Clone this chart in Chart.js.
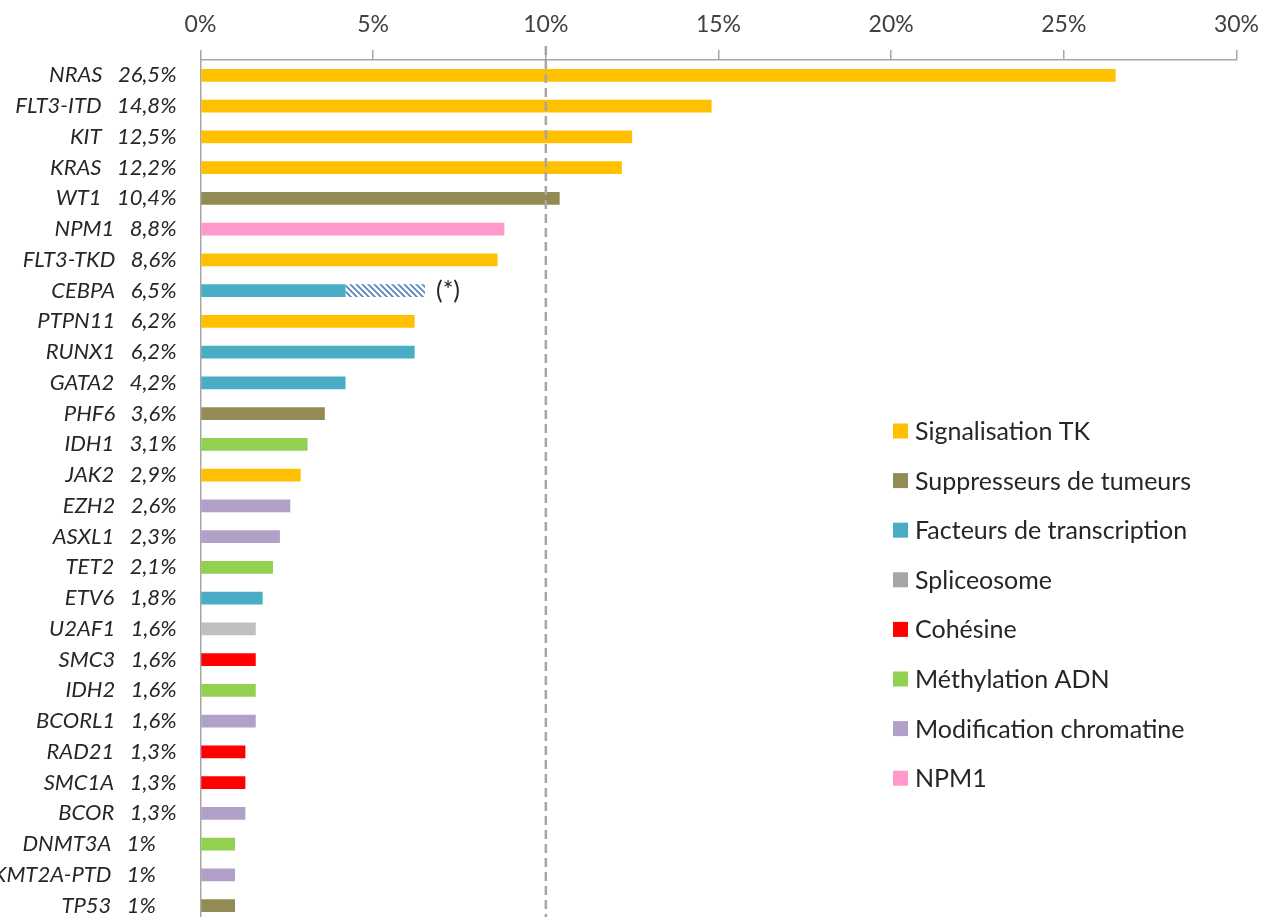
<!DOCTYPE html>
<html>
<head>
<meta charset="utf-8">
<script src="https://cdn.jsdelivr.net/npm/chart.js@4.4.1/dist/chart.umd.min.js"></script>
<style>
  html, body { margin: 0; padding: 0; background: #ffffff; overflow: hidden; }
  #wrap { width: 1276px; height: 917px; overflow: hidden; }
</style>
</head>
<body>
<div id="wrap"><canvas id="c" width="1276" height="921"></canvas></div>
<script>
// ---- data ----
const genes = ['NRAS','FLT3-ITD','KIT','KRAS','WT1','NPM1','FLT3-TKD','CEBPA','PTPN11','RUNX1','GATA2','PHF6','IDH1','JAK2','EZH2','ASXL1','TET2','ETV6','U2AF1','SMC3','IDH2','BCORL1','RAD21','SMC1A','BCOR','DNMT3A','KMT2A-PTD','TP53'];
const values = [26.5,14.8,12.5,12.2,10.4,8.8,8.6,6.5,6.2,6.2,4.2,3.6,3.1,2.9,2.6,2.3,2.1,1.8,1.6,1.6,1.6,1.6,1.3,1.3,1.3,1,1,1];
const pctLabels = ['26,5%','14,8%','12,5%','12,2%','10,4%','8,8%','8,6%','6,5%','6,2%','6,2%','4,2%','3,6%','3,1%','2,9%','2,6%','2,3%','2,1%','1,8%','1,6%','1,6%','1,6%','1,6%','1,3%','1,3%','1,3%','1%','1%','1%'];
// category index per gene
const groups = [0,0,0,0,1,7,0,2,0,2,2,1,5,0,6,6,5,2,3,4,5,6,4,4,6,5,6,1];
const categories = ['Signalisation TK','Suppresseurs de tumeurs','Facteurs de transcription','Spliceosome','Cohésine','Méthylation ADN','Modification chromatine','NPM1'];
const catColors = ['#FFC000','#948A54','#4BACC6','#BFBFBF','#FF0000','#92D050','#B1A0C7','#FF99CC'];
const legendColors = ['#FFC000','#948A54','#4BACC6','#A6A6A6','#FF0000','#92D050','#B1A0C7','#FF99CC'];
// CEBPA: solid part + hatched remainder
const cebpaGene = 'CEBPA';
const cebpaSolid = 4.2;
const cebpaNote = '(*)';
const xTicks = [0,5,10,15,20,25,30];
const refLine = 10;

// ---- hatch pattern ----
function makeHatch(color) {
  const s = 6;
  const pc = document.createElement('canvas');
  pc.width = s; pc.height = s;
  const g = pc.getContext('2d');
  g.fillStyle = '#ffffff';
  g.fillRect(0, 0, s, s);
  g.strokeStyle = color;
  g.lineWidth = 1.6;
  g.beginPath();
  g.moveTo(-1, -1); g.lineTo(s + 1, s + 1);
  g.moveTo(-1, s - 1); g.lineTo(1, s + 1);
  g.moveTo(s - 1, -1); g.lineTo(s + 1, 1);
  g.stroke();
  return document.getElementById('c').getContext('2d').createPattern(pc, 'repeat');
}

// ---- datasets ----
const cebpaIdx = genes.indexOf(cebpaGene);
const datasets = categories.map((cat, ci) => ({
  label: cat,
  data: values.map((v, i) => groups[i] === ci ? (i === cebpaIdx ? cebpaSolid : v) : null),
  backgroundColor: catColors[ci],
  borderWidth: 0,
  stack: 's'
}));
datasets.push({
  label: 'hatch',
  data: values.map((v, i) => i === cebpaIdx ? +(v - cebpaSolid).toFixed(2) : null),
  backgroundColor: makeHatch('#4F81BD'),
  borderWidth: 0,
  stack: 's'
});

const FONT = 'Lato';
const labelGap = '   ';
const labelPadSpaces = '    ';

const extras = {
  id: 'extras',
  afterDatasetsDraw(chart) {
    const ctx = chart.ctx;
    const xs = chart.scales.x, ys = chart.scales.y;
    // dashed reference line
    const x10 = xs.getPixelForValue(refLine);
    ctx.save();
    ctx.strokeStyle = '#A6A6A6';
    ctx.lineWidth = 2.5;
    ctx.setLineDash([9, 5]);
    ctx.beginPath();
    ctx.moveTo(x10, 46);
    ctx.lineTo(x10, chart.chartArea.bottom);
    ctx.stroke();
    ctx.restore();
    // note after CEBPA
    ctx.save();
    ctx.font = '25px ' + FONT;
    ctx.fillStyle = '#262626';
    ctx.textAlign = 'left';
    ctx.textBaseline = 'middle';
    ctx.fillText(cebpaNote, xs.getPixelForValue(values[cebpaIdx]) + 11, ys.getPixelForValue(cebpaIdx));
    ctx.restore();
    // legend
    ctx.save();
    ctx.font = '25px ' + FONT;
    ctx.textAlign = 'left';
    ctx.textBaseline = 'middle';
    const lx = 893, ly0 = 431, step = 49.6, box = 15;
    categories.forEach((cat, i) => {
      const y = ly0 + i * step;
      ctx.fillStyle = legendColors[i];
      ctx.fillRect(lx, y - box / 2, box, box);
      ctx.fillStyle = '#262626';
      ctx.fillText(cat, lx + 22, y + 1);
    });
    ctx.restore();
  }
};

new Chart(document.getElementById('c'), {
  type: 'bar',
  data: { labels: genes, datasets },
  options: {
    indexAxis: 'y',
    responsive: false,
    animation: false,
    devicePixelRatio: 1,
    layout: { padding: { left: 0, right: 39.5, top: 0, bottom: 0 } },
    datasets: { bar: { barPercentage: 0.42, categoryPercentage: 1 } },
    plugins: { legend: { display: false }, tooltip: { enabled: false } },
    scales: {
      x: {
        position: 'top',
        stacked: true,
        min: 0, max: 30,
        afterBuildTicks(s) { s.ticks = xTicks.map(v => ({ value: v })); },
        afterFit(s) { s.height = 60; },
        border: { display: true, color: '#A6A6A6', width: 1.5 },
        grid: { display: true, drawOnChartArea: false, drawTicks: true, tickLength: 10, color: '#A6A6A6', lineWidth: 1.5 },
        ticks: {
          padding: 12,
          color: '#404040',
          font: { family: FONT, size: 23 },
          callback: v => v + '%'
        }
      },
      y: {
        stacked: true,
        afterFit(s) { s.width = 200.5; s.paddingTop = 0; s.paddingBottom = 0; },
        border: { display: true, color: '#A6A6A6', width: 1.5 },
        grid: { display: false },
        ticks: {
          padding: 16,
          color: '#262626',
          autoSkip: false,
          font: { family: FONT, size: 22, style: 'italic' },
          callback: (v, i) => genes[i] + labelGap + pctLabels[i] + (pctLabels[i].includes(',') ? '' : labelPadSpaces)
        }
      }
    }
  },
  plugins: [extras]
});
</script>
</body>
</html>
